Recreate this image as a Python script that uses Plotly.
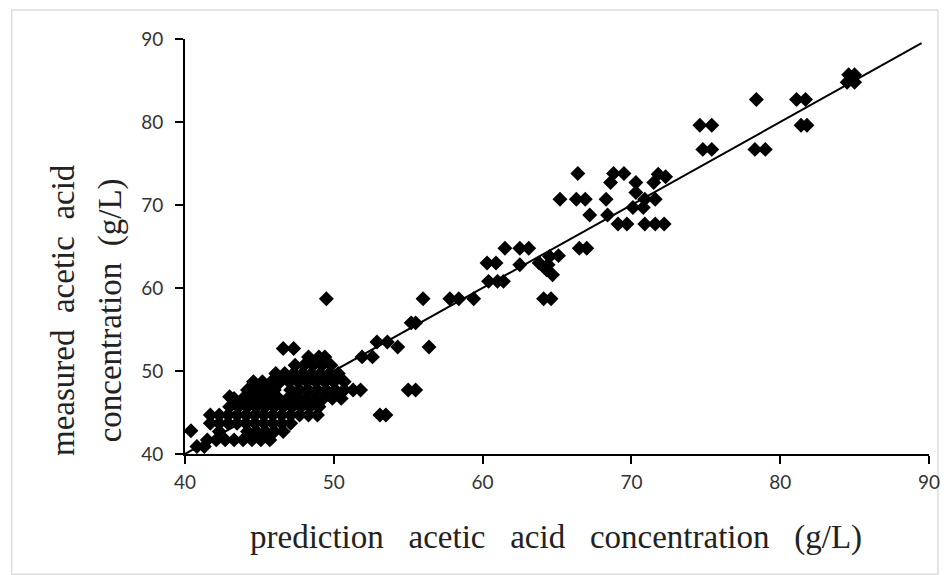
import plotly.graph_objects as go

# measured (y) levels and predicted (x) values
pred = [
    # upper region
    84.5, 85.0, 84.6, 85.0, 84.8,
    78.4, 81.1, 81.7,
    74.6, 75.4, 81.4, 81.8,
    74.8, 75.4, 78.3, 79.0,
    66.4, 68.8, 69.5, 71.8, 72.3,
    68.6, 70.3, 71.5,
    70.3,
    65.2, 66.3, 66.9, 68.3, 70.9, 71.6,
    70.1, 70.8,
    67.2, 68.4,
    69.1, 69.7, 70.9, 71.6, 72.2,
    61.5, 62.5, 63.1, 66.5, 67.0,
    64.5, 65.1,
    60.3, 60.9, 63.8,
    62.5, 64.4, 64.3, 64.7,
    60.4, 61.0, 61.4,
    49.5, 56.0, 57.8, 58.4, 59.4, 64.1, 64.6,
    55.2, 55.5,
    52.9, 53.6,
    54.3, 56.4,
    51.9, 52.6,
    55.0, 55.5, 51.8,
    53.1, 53.5,
    # dense cluster
    46.6, 47.3,
    48.3, 49.0, 49.4,
    47.4, 48.0, 48.6, 49.2, 49.8,
    46.1, 46.7, 47.3, 47.9, 48.5, 49.1, 49.7, 50.3,
    44.6, 45.2, 45.8, 46.4, 47.0, 47.6, 48.2, 48.8, 49.4, 50.0, 50.7,
    44.2, 44.8, 45.4, 46.0, 47.1, 47.7, 48.3, 48.9, 49.5, 50.1, 50.7, 51.3,
    43.3, 43.9, 44.5, 45.1, 45.7, 46.3, 46.9, 47.5, 48.1, 48.7, 49.3, 49.9, 50.5,
    43.0, 43.6, 44.2, 44.8, 45.4, 46.0, 46.6, 47.2, 47.8, 48.4, 49.0, 43.0,
    41.7, 42.3, 42.9, 43.5, 44.1, 44.7, 45.3, 45.9, 46.5, 47.1, 47.7, 48.3, 48.9,
    41.7, 42.3, 42.9, 43.5, 44.1, 44.7, 45.3, 45.9, 46.5, 47.1,
    42.3, 44.2, 44.8, 45.4, 46.0, 46.6,
    41.5, 42.1, 42.7, 43.3, 43.9, 44.5, 45.1, 45.7,
    40.8, 41.3,
    40.4,
]
meas = [
    84.8, 84.8, 85.7, 85.7, 85.2,
    82.7, 82.7, 82.7,
    79.6, 79.6, 79.6, 79.6,
    76.7, 76.7, 76.7, 76.7,
    73.8, 73.8, 73.8, 73.7, 73.4,
    72.7, 72.7, 72.7,
    71.5,
    70.7, 70.7, 70.7, 70.7, 70.7, 70.7,
    69.7, 69.7,
    68.8, 68.8,
    67.7, 67.7, 67.7, 67.7, 67.7,
    64.8, 64.8, 64.8, 64.8, 64.8,
    63.8, 63.9,
    63.0, 63.0, 63.0,
    62.8, 62.8, 62.2, 61.6,
    60.8, 60.8, 60.8,
    58.7, 58.7, 58.7, 58.7, 58.7, 58.7, 58.7,
    55.8, 55.8,
    53.5, 53.5,
    52.9, 52.9,
    51.7, 51.7,
    47.7, 47.7, 47.7,
    44.7, 44.7,
    52.7, 52.7,
    51.7, 51.7, 51.7,
    50.7, 50.7, 50.7, 50.7, 50.7,
    49.7, 49.7, 49.7, 49.7, 49.7, 49.7, 49.7, 49.7,
    48.7, 48.7, 48.7, 48.7, 48.7, 48.7, 48.7, 48.7, 48.7, 48.7, 48.7,
    47.7, 47.7, 47.7, 47.7, 47.7, 47.7, 47.7, 47.7, 47.7, 47.7, 47.7, 47.7,
    46.7, 46.7, 46.7, 46.7, 46.7, 46.7, 46.7, 46.7, 46.7, 46.7, 46.7, 46.7, 46.7,
    45.7, 45.7, 45.7, 45.7, 45.7, 45.7, 45.7, 45.7, 45.7, 45.7, 45.7, 46.9,
    44.7, 44.7, 44.7, 44.7, 44.7, 44.7, 44.7, 44.7, 44.7, 44.7, 44.7, 44.7, 44.7,
    43.7, 43.7, 43.7, 43.7, 43.7, 43.7, 43.7, 43.7, 43.7, 43.7,
    42.7, 42.7, 42.7, 42.7, 42.7, 42.7,
    41.7, 41.7, 41.7, 41.7, 41.7, 41.7, 41.7, 41.7,
    40.9, 40.9,
    42.8,
]

line_x = [40, 89.5]
line_y = [40, 89.5]

tick_vals = [40, 50, 60, 70, 80, 90]
x_title = "prediction&nbsp;&nbsp; acetic&nbsp;&nbsp; acid&nbsp;&nbsp; concentration&nbsp;&nbsp; (g/L)"
y_title_1 = "measured&nbsp; acetic&nbsp; acid"
y_title_2 = "concentration&nbsp; (g/L)"

fig = go.Figure()
fig.add_trace(go.Scatter(
    x=pred, y=meas, mode="markers",
    marker=dict(symbol="diamond", size=11.5, color="black", line=dict(width=0)),
    showlegend=False, hoverinfo="skip",
))
fig.add_trace(go.Scatter(
    x=line_x, y=line_y, mode="lines",
    line=dict(color="black", width=2),
    showlegend=False, hoverinfo="skip",
))

axis_common = dict(
    range=[40, 90], tickvals=tick_vals, showgrid=False, zeroline=False,
    showline=True, linecolor="black", linewidth=2,
    ticks="outside", ticklen=8, tickwidth=2, tickcolor="black",
    tickfont=dict(family="Lato", size=19, color="#333333"),
)
fig.update_xaxes(**axis_common, ticklabelstandoff=2)
fig.update_yaxes(**axis_common, ticklabelstandoff=8)

title_font = dict(family="Liberation Serif", size=33, color="#222222")
fig.update_layout(
    width=952, height=575,
    margin=dict(l=185, r=15, t=39, b=121),
    plot_bgcolor="white", paper_bgcolor="white",
    annotations=[
        dict(text=x_title, xref="paper", yref="paper", x=0.498, y=-0.2,
             xanchor="center", yanchor="middle", showarrow=False, font=title_font),
        dict(text=y_title_1, xref="paper", yref="paper", x=-0.164, y=0.347,
             xanchor="center", yanchor="middle", textangle=-90, showarrow=False,
             font=title_font),
        dict(text=y_title_2, xref="paper", yref="paper", x=-0.099, y=0.347,
             xanchor="center", yanchor="middle", textangle=-90, showarrow=False,
             font=title_font),
    ],
    shapes=[
        dict(type="rect", xref="paper", yref="paper",
             x0=-0.233, x1=1.012, y0=-0.29, y1=1.07,
             line=dict(color="#dddddd", width=1.5), layer="below"),
    ],
)

fig.write_html("out.html")
